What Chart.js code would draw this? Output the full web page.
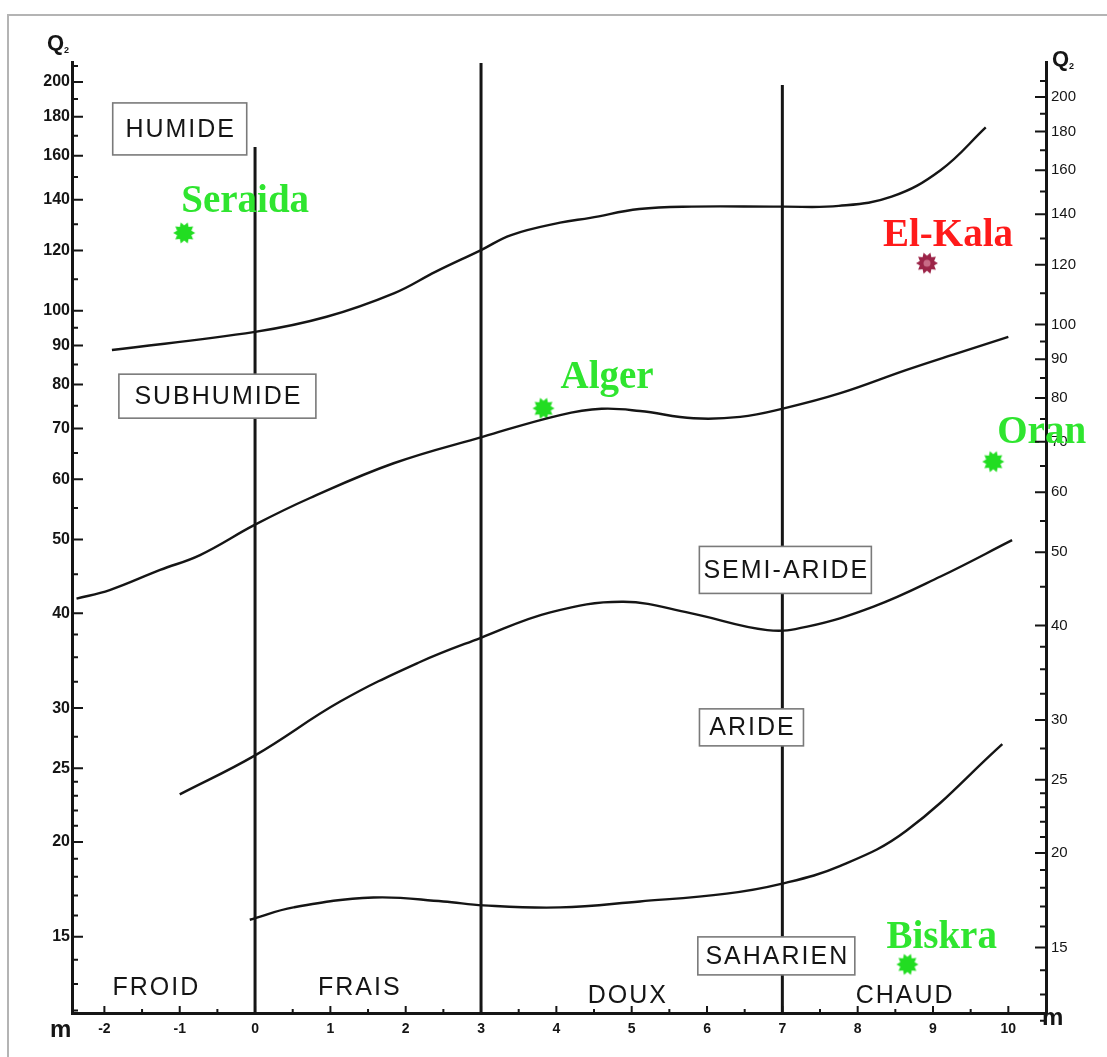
<!DOCTYPE html>
<html>
<head>
<meta charset="utf-8">
<title>Climagramme d'Emberger</title>
<script src="https://cdn.jsdelivr.net/npm/chart.js@4.4.1/dist/chart.umd.min.js"></script>
<style>
  html, body { margin: 0; padding: 0; background: #fff; }
  #wrap { width: 1107px; height: 1057px; }
</style>
</head>
<body>
<div id="wrap"><canvas id="climagram" width="1107" height="1057"></canvas></div>
<script>
// m = minimum temperature of the coldest month (°C), Q2 = Emberger quotient
const tempTicks = [-2, -1, 0, 1, 2, 3, 4, 5, 6, 7, 8, 9, 10]
const tempMinorTicks = [-1.5, -0.5, 0.5, 1.5, 2.5, 3.5, 4.5, 5.5, 6.5, 7.5, 8.5, 9.5]
const q2Ticks = [15, 20, 25, 30, 40, 50, 60, 70, 80, 90, 100, 120, 140, 160, 180, 200]
const q2MinorTicks = [12, 13, 14, 16, 17, 18, 19, 21, 22, 23, 24, 27.5, 32.5, 35, 37.5, 45, 55, 65, 75, 85, 95, 110, 130, 150, 170, 190, 210]

// limits between bioclimatic stages
const humideM = [-1.9, 0, 0.95, 1.85, 2.4, 3, 3.4, 4.05, 4.45, 5.1, 5.8, 7, 7.75, 8.45, 9.1, 9.7]
const humideQ2 = [88.8, 93.8, 98.2, 105.5, 112.6, 120.2, 125.8, 130.6, 132.5, 136.1, 137.1, 137.1, 137.4, 141.3, 153.1, 174.3]

const subhumideM = [-2.37, -1.93, -1.26, -0.73, 0, 0.73, 1.84, 3.03, 4.05, 4.6, 5.11, 5.82, 6.44, 7.02, 7.77, 8.65, 9.32, 10]
const subhumideQ2 = [41.8, 42.9, 45.6, 47.7, 52.3, 56.7, 63.0, 68.3, 72.9, 74.3, 73.8, 72.2, 72.5, 74.4, 77.9, 83.6, 87.9, 92.4]

const semiarideM = [-1.0, 0, 1.13, 2.19, 2.99, 3.92, 4.89, 5.78, 6.8, 7.33, 8.21, 9.1, 10.05]
const semiarideQ2 = [23.1, 26.0, 30.6, 34.5, 37.1, 40.1, 41.4, 40.0, 38.0, 38.4, 40.8, 44.7, 49.9]

const arideM = [-0.07, 0.51, 1.57, 2.5, 3.03, 4.05, 5.11, 6.26, 6.97, 7.77, 8.65, 9.92]
const arideQ2 = [15.8, 16.4, 16.9, 16.7, 16.5, 16.4, 16.7, 17.1, 17.6, 18.6, 20.7, 26.9]

// thermal variant limits (vertical lines)
const thermalM = [0, 3, 7]
const thermalTopQ2 = [164.3, 211.8, 198.2]

const stations = ['Seraida', 'Alger', 'El-Kala', 'Oran', 'Biskra']
const stationM = [-0.94, 3.83, 8.92, 9.8, 8.66]
const stationQ2 = [126.6, 74.4, 115.5, 63.3, 13.8]

const stages = ['HUMIDE', 'SUBHUMIDE', 'SEMI-ARIDE', 'ARIDE', 'SAHARIEN']
const variants = ['FROID', 'FRAIS', 'DOUX', 'CHAUD']

// axis ranges (left and right Q2 scales are slightly offset on the original sheet)
const mMin = -2.43, mMax = 10.5
const q2Min = 11.91, q2Max = 212.5
const q2RightMin = 12.29, q2RightMax = 222.5

// label placement, in axis units, and box sizes in px
const stageLayout = [
  { m: -1.0, q: 173.5, w: 134, h: 52 },
  { m: -0.5, q: 77.2, w: 197, h: 44 },
  { m: 7.04, q: 45.6, w: 172, h: 47 },
  { m: 6.59, q: 28.3, w: 104, h: 37 },
  { m: 6.92, q: 14.16, w: 157, h: 38 }
]
const variantLayout = [
  { m: -1.31, q: 12.85 },
  { m: 1.39, q: 12.85 },
  { m: 4.95, q: 12.54 },
  { m: 8.63, q: 12.54 }
]
const stationOffset = [[-3, -21], [17, -20], [-44, -17], [4, -19], [-21, -16]]
const stationText = ['#2fe52f', '#2fe52f', '#ff1a1a', '#2fe52f', '#2fe52f']
const stationMark = ['#22dd22', '#22dd22', '#9c2448', '#22dd22', '#22dd22']

const ink = '#151515'

function pairs(xs, ys) {
  return xs.map((v, i) => ({ x: v, y: ys[i] }))
}

function star(color, core) {
  const c = document.createElement('canvas')
  c.width = c.height = 24
  const g = c.getContext('2d')
  g.translate(12, 12)
  g.beginPath()
  for (let i = 0; i < 20; i++) {
    const r = i % 2 ? 7.5 : 11
    const a = Math.PI * i / 10
    g.lineTo(r * Math.cos(a), r * Math.sin(a))
  }
  g.closePath()
  g.fillStyle = color
  g.fill()
  if (core) {
    g.beginPath()
    g.arc(0, 0, 3.5, 0, 2 * Math.PI)
    g.fillStyle = core
    g.fill()
  }
  return c
}

const limitLine = (label, xs, ys) => ({
  label: label,
  data: pairs(xs, ys),
  showLine: true,
  borderColor: ink,
  borderWidth: 2.4,
  pointRadius: 0,
  tension: 0.4,
  fill: false
})

const datasets = [
  limitLine('humide', humideM, humideQ2),
  limitLine('subhumide', subhumideM, subhumideQ2),
  limitLine('semi-aride', semiarideM, semiarideQ2),
  limitLine('aride', arideM, arideQ2)
]

thermalM.forEach((m, i) => {
  datasets.push({
    label: 'm = ' + m,
    data: [{ x: m, y: q2Min }, { x: m, y: thermalTopQ2[i] }],
    showLine: true,
    borderColor: ink,
    borderWidth: 3,
    pointRadius: 0
  })
})

datasets.push({
  label: 'stations',
  data: pairs(stationM, stationQ2),
  pointStyle: stationMark.map((c, i) => star(c, i === 2 ? '#c86a86' : null)),
  pointRadius: 11
})

const sheet = {
  id: 'sheet',
  beforeDraw(chart) {
    const { ctx, width, height } = chart
    ctx.save()
    ctx.fillStyle = '#fff'
    ctx.fillRect(0, 0, width, height)
    ctx.strokeStyle = '#b4b4b4'
    ctx.lineWidth = 2
    ctx.beginPath()
    ctx.moveTo(8, height)
    ctx.lineTo(8, 15)
    ctx.lineTo(width, 15)
    ctx.stroke()
    ctx.restore()
  },
  afterDatasetsDraw(chart) {
    const { ctx, scales: { x, y } } = chart
    ctx.save()

    // stage boxes, drawn over the vertical limits
    ctx.font = '25px "Liberation Sans"'
    ctx.letterSpacing = '2px'
    ctx.textAlign = 'center'
    ctx.textBaseline = 'middle'
    stages.forEach((name, i) => {
      const b = stageLayout[i]
      const cx = x.getPixelForValue(b.m), cy = y.getPixelForValue(b.q)
      ctx.fillStyle = '#fff'
      ctx.fillRect(cx - b.w / 2, cy - b.h / 2, b.w, b.h)
      ctx.strokeStyle = '#7a7a7a'
      ctx.lineWidth = 1.6
      ctx.strokeRect(cx - b.w / 2, cy - b.h / 2, b.w, b.h)
      ctx.fillStyle = ink
      ctx.fillText(name, cx + 1, cy + 1)
    })

    variants.forEach((name, i) => {
      const v = variantLayout[i]
      ctx.fillStyle = ink
      ctx.fillText(name, x.getPixelForValue(v.m), y.getPixelForValue(v.q))
    })

    // station names
    ctx.letterSpacing = '0px'
    ctx.font = 'bold 39px "Liberation Serif"'
    ctx.textAlign = 'left'
    ctx.textBaseline = 'alphabetic'
    stations.forEach((name, i) => {
      const px = x.getPixelForValue(stationM[i]), py = y.getPixelForValue(stationQ2[i])
      ctx.fillStyle = stationText[i]
      ctx.fillText(name, px + stationOffset[i][0], py + stationOffset[i][1])
    })
    ctx.restore()
  },
  afterDraw(chart) {
    const { ctx, chartArea: a, scales: { x, y, y2 } } = chart
    ctx.save()
    ctx.strokeStyle = ink
    ctx.lineWidth = 2
    ctx.beginPath()
    q2Ticks.forEach(v => {
      const pl = y.getPixelForValue(v), pr = y2.getPixelForValue(v)
      ctx.moveTo(a.left, pl); ctx.lineTo(a.left + 11, pl)
      ctx.moveTo(a.right, pr); ctx.lineTo(a.right - 11, pr)
    })
    q2MinorTicks.forEach(v => {
      const pl = y.getPixelForValue(v), pr = y2.getPixelForValue(v)
      ctx.moveTo(a.left, pl); ctx.lineTo(a.left + 6, pl)
      ctx.moveTo(a.right, pr); ctx.lineTo(a.right - 6, pr)
    })
    tempTicks.forEach(v => {
      const px = x.getPixelForValue(v)
      ctx.moveTo(px, a.bottom); ctx.lineTo(px, a.bottom - 7)
    })
    tempMinorTicks.forEach(v => {
      const px = x.getPixelForValue(v)
      ctx.moveTo(px, a.bottom); ctx.lineTo(px, a.bottom - 4)
    })
    ctx.stroke()

    // axis names
    ctx.fillStyle = ink
    ctx.textBaseline = 'alphabetic'
    ctx.textAlign = 'left'
    ctx.font = 'bold 24px "Liberation Sans"'
    ctx.fillText('m', a.left - 22, a.bottom + 24)
    ctx.fillText('m', a.right - 4, a.bottom + 12)
    ctx.font = 'bold 22px "Liberation Sans"'
    ctx.fillText('Q', a.left - 25, a.top - 12)
    ctx.fillText('Q', a.right + 6, a.top + 4)
    ctx.font = 'bold 9px "Liberation Sans"'
    ctx.fillText('2', a.left - 8, a.top - 9)
    ctx.fillText('2', a.right + 23, a.top + 7)
    ctx.restore()
  }
}

const tickFont = { family: 'Liberation Sans', size: 16, weight: 'bold' }

new Chart(document.getElementById('climagram'), {
  type: 'scatter',
  data: { datasets: datasets },
  options: {
    responsive: false,
    animation: false,
    layout: { padding: { top: 62, left: 0, right: 0, bottom: 0 } },
    plugins: {
      legend: { display: false },
      tooltip: { enabled: false }
    },
    scales: {
      x: {
        type: 'linear',
        min: mMin,
        max: mMax,
        afterBuildTicks: s => { s.ticks = tempTicks.map(v => ({ value: v })) },
        afterFit: s => { s.height = 44 },
        grid: { drawOnChartArea: false, drawTicks: false },
        border: { color: ink, width: 3 },
        ticks: {
          padding: 8,
          color: ink,
          autoSkip: false,
          maxRotation: 0,
          font: { family: 'Liberation Sans', size: 14, weight: 'bold' },
          callback: v => String(v)
        }
      },
      y: {
        type: 'logarithmic',
        position: 'left',
        min: q2Min,
        max: q2Max,
        afterBuildTicks: s => { s.ticks = q2Ticks.map(v => ({ value: v })) },
        afterFit: s => { s.width = 72 },
        grid: { drawOnChartArea: false, drawTicks: false },
        border: { color: ink, width: 3 },
        ticks: { padding: 2, color: ink, autoSkip: false, font: tickFont, callback: v => String(v) }
      },
      y2: {
        type: 'logarithmic',
        position: 'right',
        min: q2RightMin,
        max: q2RightMax,
        afterBuildTicks: s => { s.ticks = q2Ticks.map(v => ({ value: v })) },
        afterFit: s => { s.width = 61 },
        grid: { drawOnChartArea: false, drawTicks: false },
        border: { color: ink, width: 3 },
        ticks: {
          padding: 5,
          color: ink,
          autoSkip: false,
          font: { family: 'Liberation Sans', size: 15 },
          callback: v => String(v)
        }
      }
    }
  },
  plugins: [sheet]
})
</script>
</body>
</html>
